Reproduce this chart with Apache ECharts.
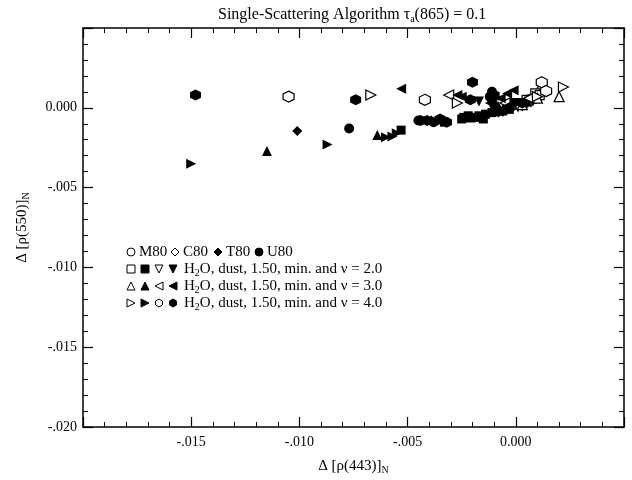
<!DOCTYPE html>
<html>
<head>
<meta charset="utf-8">
<script src="https://cdn.jsdelivr.net/npm/echarts@6/dist/echarts.min.js"></script>
<style>
  html, body { margin: 0; background: #fff; }
  #chart { width: 632px; height: 480px; }
</style>
</head>
<body>
<div id="chart"></div>
<script>
// tick labels (index = tick position from min)
const xTickLabels = ['', '-.015', '-.010', '-.005', '0.000', ''];
const yTickLabels = ['-.020', '-.015', '-.010', '-.005', '0.000', ''];

// data, [delta rho(443), delta rho(550)]
const m80 = [[-0.0003, 0.0000], [0.0004, 0.0003], [0.0009, 0.0006], [0.0012, 0.0011]];
const c80 = [[-0.0006, -0.0002], [0.0002, 0.0002], [0.0007, 0.0004], [0.0011, 0.0007]];
const t80 = [[-0.0101, -0.00145], [-0.0039, -0.0008], [-0.0036, -0.0008], [-0.0008, -0.0003], [-0.0010, 0.0003], [0.0003, 0.0001]];
const u80 = [[-0.0077, -0.0013], [-0.0045, -0.0008], [-0.0038, -0.0009], [-0.0011, 0.0010], [-0.0012, 0.0007], [-0.0009, -0.0002], [-0.0005, 0.0002]];
const v2Open = [[0.0009, 0.0009], [0.0005, 0.0005], [-0.0002, 0.0002], [0.0011, 0.0008]];
const v2Fill = [[-0.0053, -0.0014], [-0.0033, -0.0009], [-0.0025, -0.0007], [-0.0024, -0.0006], [-0.0022, -0.0005], [-0.0019, -0.0006],
  [-0.0017, -0.0005], [-0.0015, -0.0007], [-0.0014, -0.0004], [-0.0011, -0.0003], [-0.0006, -0.0002], [-0.0003, -0.0001], [0.0002, 0.0002]];
const v2DownOpen = [[-0.0007, 0.0002], [0.0001, 0.0001], [0.0008, 0.0005]];
const v2DownFill = [[-0.0017, 0.0004], [-0.0011, 0.0001], [-0.0004, 0.0000], [0.0000, 0.0003], [0.0006, 0.0004]];
const v3UpOpen = [[0.0020, 0.0007], [0.0003, 0.0002], [-0.0004, 0.0001], [0.0010, 0.0006]];
const v3UpFill = [[-0.0115, -0.0027], [-0.0064, -0.0017], [-0.0021, -0.0006], [-0.0008, 0.0001], [-0.0002, 0.0004], [0.0005, 0.0004]];
const v3LeftOpen = [[-0.0031, 0.0008], [-0.0005, 0.0003], [0.0006, 0.0006]];
const v3LeftFill = [[-0.0053, 0.0012], [-0.0027, 0.0008], [-0.0025, 0.0007], [-0.0001, 0.0011], [-0.0012, 0.0003], [-0.0007, 0.0006], [-0.0004, 0.0009]];
const v4RightOpen = [[-0.0067, 0.0008], [-0.0027, 0.0003], [0.0022, 0.0013], [0.0010, 0.0007]];
const v4RightFill = [[-0.0150, -0.0035], [-0.0087, -0.0023], [-0.0060, -0.00185], [-0.0057, -0.0018], [-0.0055, -0.0016], [-0.0036, -0.0009]];
const v4HexOpen = [[-0.0105, 0.0007], [-0.0042, 0.0005], [0.0012, 0.0016], [0.0014, 0.00105]];
const v4HexFill = [[-0.0148, 0.0008], [-0.0074, 0.0005], [-0.0020, 0.0016], [-0.0021, 0.0005], [-0.0010, 0.0008], [-0.0044, -0.0008],
  [-0.0041, -0.0008], [-0.0035, -0.0007], [-0.0032, -0.0009], [-0.0008, -0.0002], [-0.0003, 0.0000], [0.0003, 0.0003]];

const FONT = 'Liberation Serif';
const TRI_DOWN = 'path://M0,0L10,0L5,9Z';
const TRI_LEFT = 'path://M0,5L9,0L9,10Z';
const TRI_RIGHT = 'path://M0,0L9,5L0,10Z';
const HEX = 'path://M5,0L9.33,2.5L9.33,7.5L5,10L0.67,7.5L0.67,2.5Z';

// name, data, symbol, open?
const defs = [
  ['M80', m80, 'circle', true],
  ['C80', c80, 'diamond', true],
  ['T80', t80, 'diamond', false],
  ['U80', u80, 'circle', false],
  ['v2 square open', v2Open, 'rect', true],
  ['v2 square', v2Fill, 'rect', false],
  ['v2 down open', v2DownOpen, TRI_DOWN, true],
  ['v2 down', v2DownFill, TRI_DOWN, false],
  ['v3 up open', v3UpOpen, 'triangle', true],
  ['v3 up', v3UpFill, 'triangle', false],
  ['v3 left open', v3LeftOpen, TRI_LEFT, true],
  ['v3 left', v3LeftFill, TRI_LEFT, false],
  ['v4 right open', v4RightOpen, TRI_RIGHT, true],
  ['v4 right', v4RightFill, TRI_RIGHT, false],
  ['v4 hex open', v4HexOpen, HEX, true],
  ['v4 hex', v4HexFill, HEX, false]
];

const series = defs.map(d => ({
  name: d[0],
  type: 'scatter',
  data: d[1],
  symbol: d[2],
  symbolSize: d[2] === 'rect' ? 9 : (d[2] === HEX ? 11 : 10),
  itemStyle: {
    color: d[3] ? '#fff' : '#000',
    borderColor: '#000',
    borderWidth: d[3] ? 1.2 : 0,
    opacity: 1
  }
}));

// legend drawn with graphic shapes
function legendSymbol(kind, open, cx, cy) {
  const s = 8, h = s / 2;
  const style = { fill: open ? '#fff' : '#000', stroke: '#000', lineWidth: 1 };
  if (kind === 'circle') return { type: 'circle', shape: { cx: cx, cy: cy, r: h }, style: style };
  if (kind === 'rect') return { type: 'rect', shape: { x: cx - h, y: cy - h, width: s, height: s }, style: style };
  let pts;
  if (kind === 'diamond') pts = [[cx, cy - h], [cx + h, cy], [cx, cy + h], [cx - h, cy]];
  if (kind === 'up') pts = [[cx, cy - h], [cx + h, cy + h], [cx - h, cy + h]];
  if (kind === 'down') pts = [[cx - h, cy - h], [cx + h, cy - h], [cx, cy + h]];
  if (kind === 'left') pts = [[cx - h, cy], [cx + h, cy - h], [cx + h, cy + h]];
  if (kind === 'right') pts = [[cx - h, cy - h], [cx + h, cy], [cx - h, cy + h]];
  if (kind === 'hex') pts = [[cx, cy - h], [cx + h * 0.87, cy - h / 2], [cx + h * 0.87, cy + h / 2], [cx, cy + h], [cx - h * 0.87, cy + h / 2], [cx - h * 0.87, cy - h / 2]];
  return { type: 'polygon', shape: { points: pts }, style: style };
}
function legendText(txt, x, y) {
  return {
    type: 'text', x: x, y: y,
    style: {
      text: txt, font: '15px "Liberation Serif"', fill: '#000', verticalAlign: 'middle',
      rich: { s: { fontSize: 10, fontFamily: FONT, verticalAlign: 'bottom', padding: [8, 0, 0, 0] } }
    }
  };
}

const graphic = [];
const r1 = 252;
graphic.push(legendSymbol('circle', true, 131, r1), legendText('M80', 139, r1));
graphic.push(legendSymbol('diamond', true, 175, r1), legendText('C80', 183, r1));
graphic.push(legendSymbol('diamond', false, 218, r1), legendText('T80', 226, r1));
graphic.push(legendSymbol('circle', false, 259, r1), legendText('U80', 267, r1));
const rows = [
  [269, [['rect', true], ['rect', false], ['down', true], ['down', false]], '2.0'],
  [286, [['up', true], ['up', false], ['left', true], ['left', false]], '3.0'],
  [303, [['right', true], ['right', false], ['hex', true], ['hex', false]], '4.0']
];
rows.forEach(r => {
  r[1].forEach((k, i) => graphic.push(legendSymbol(k[0], k[1], 131 + i * 14, r[0])));
  graphic.push(legendText('H{s|2}O, dust, 1.50, min. and \u03bd = ' + r[2], 184, r[0]));
});

const axisCommon = {
  axisLine: { show: true, onZero: false, lineStyle: { color: '#000', width: 1.5 } },
  axisTick: { show: true, inside: true, length: 10, lineStyle: { color: '#000', width: 1.2 } },
  minorTick: { show: true, splitNumber: 5, length: 5, lineStyle: { color: '#000', width: 1 } },
  splitLine: { show: false },
  minorSplitLine: { show: false }
};

const chart = echarts.init(document.getElementById('chart'));
chart.setOption({
  animation: false,
  backgroundColor: '#fff',
  title: {
    text: 'Single-Scattering Algorithm \u03c4{s|a}(865) = 0.1',
    left: 213,
    top: 1,
    textStyle: {
      fontFamily: FONT, fontSize: 16, fontWeight: 'normal', color: '#000',
      rich: { s: { fontFamily: FONT, fontSize: 10, verticalAlign: 'bottom', padding: [8, 0, 0, 0] } }
    }
  },
  grid: { left: 83, right: 8, top: 28, bottom: 53 },
  xAxis: [
    Object.assign({
      type: 'value', min: -0.02, max: 0.005, interval: 0.005, position: 'bottom',
      name: '\u0394 [\u03c1(443)]{s|N}', nameLocation: 'middle', nameGap: 30,
      nameTextStyle: {
        fontFamily: FONT, fontSize: 15, color: '#000',
        rich: { s: { fontFamily: FONT, fontSize: 10, verticalAlign: 'bottom', padding: [8, 0, 0, 0] } }
      },
      axisLabel: { fontFamily: FONT, fontSize: 14, color: '#000', margin: 8, formatter: (v, i) => xTickLabels[i] }
    }, axisCommon),
    Object.assign({
      type: 'value', min: -0.02, max: 0.005, interval: 0.005, position: 'top',
      axisLabel: { show: false }
    }, axisCommon)
  ],
  yAxis: [
    Object.assign({
      type: 'value', min: -0.02, max: 0.005, interval: 0.005, position: 'left',
      name: '\u0394 [\u03c1(550)]{s|N}', nameLocation: 'middle', nameGap: 52, nameRotate: 90,
      nameTextStyle: {
        fontFamily: FONT, fontSize: 15, color: '#000',
        rich: { s: { fontFamily: FONT, fontSize: 10, verticalAlign: 'bottom', padding: [8, 0, 0, 0] } }
      },
      axisLabel: { fontFamily: FONT, fontSize: 14, color: '#000', margin: 6, formatter: (v, i) => yTickLabels[i] }
    }, axisCommon),
    Object.assign({
      type: 'value', min: -0.02, max: 0.005, interval: 0.005, position: 'right',
      axisLabel: { show: false }
    }, axisCommon)
  ],
  series: series,
  graphic: graphic
});
</script>
</body>
</html>
